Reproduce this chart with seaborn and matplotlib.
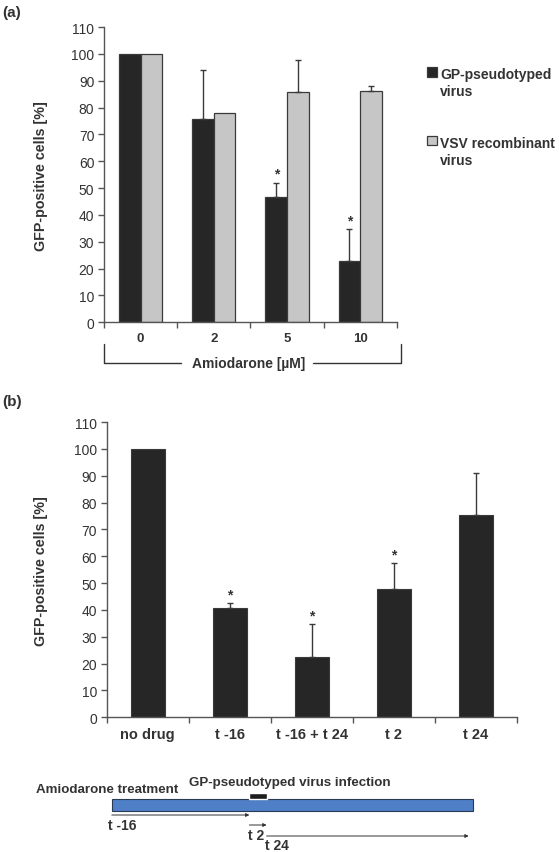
import numpy as np
import pandas as pd
import matplotlib
matplotlib.use("Agg")
import matplotlib.pyplot as plt
import seaborn as sns

sns.set_style("white")
plt.rcParams['font.family'] = ['Liberation Sans', 'DejaVu Sans']

#Panel (a) data
doses = ['0', '2', '5', '10']
gp_vals = [100, 75.7, 46.6, 22.8]
gp_err = [0, 18.3, 5.4, 11.9]
vsv_vals = [100, 78.0, 85.8, 86.2]
vsv_err = [0, 0, 12.0, 1.9]
sig_gp = [False, False, True, True]
series = ['GP-pseudotyped\nvirus', 'VSV recombinant\nvirus']

#Panel (b) data
timepoints = ['no drug', 't -16', 't -16 + t 24', 't 2', 't 24']
b_vals = [100, 40.7, 22.6, 47.8, 75.3]
b_err = [0, 1.8, 12.1, 9.6, 15.7]
sig_b = [False, True, True, True, False]

#Timeline (hours)
treat_start, treat_end = -16, 26
infect_start, infect_end = 0, 2

dark = '#262626'
light = '#c6c6c6'
spine_c = '#555555'
txt_c = '#333333'

fig = plt.figure(figsize=(5.59, 8.53), dpi=100)


def style_axes(ax, ncat, xsize):
    sns.despine(ax=ax)
    for s in ['left', 'bottom']:
        ax.spines[s].set_color(spine_c)
        ax.spines[s].set_linewidth(1.0)
    ax.set_ylim(0, 110)
    ax.set_xlim(-0.5, ncat - 0.5)
    ax.set_yticks(np.arange(0, 111, 10))
    ax.tick_params(axis='y', direction='out', length=4, width=1, color=spine_c,
                   labelsize=10, labelcolor=txt_c, pad=3, left=True)
    ax.set_xticks(np.arange(-0.5, ncat, 1), minor=True)
    ax.tick_params(axis='x', which='minor', direction='out', length=4, width=1,
                   color=spine_c, bottom=True)
    ax.tick_params(axis='x', which='major', length=0, labelsize=xsize, pad=7)
    for lab in ax.get_xticklabels():
        lab.set_fontweight('bold')
        lab.set_color(txt_c)
    ax.set_xlabel('')
    ax.set_ylabel('GFP-positive cells [%]', fontsize=10.3, fontweight='bold', color=txt_c)


def add_errors(ax, container, vals, errs, sig):
    xs = np.array([p.get_x() + p.get_width() / 2 for p in container.patches])
    vals = np.asarray(vals)
    errs = np.asarray(errs)
    keep = errs > 0
    ax.errorbar(xs[keep], vals[keep], yerr=[np.zeros(keep.sum()), errs[keep]],
                fmt='none', ecolor='#3a3a3a', elinewidth=1, capsize=2, capthick=1)
    for x, v, e, s in zip(xs, vals, errs, sig):
        if s:
            ax.text(x, v + e + 0.8, '*', ha='center', va='bottom', fontsize=10,
                    fontweight='bold', color=txt_c)


#Panel (a)
df_a = pd.DataFrame({'dose': doses * 2,
                     'value': gp_vals + vsv_vals,
                     'virus': [series[0]] * 4 + [series[1]] * 4})
ax_a = fig.add_axes([0.186, 0.621, 0.524, 0.346])
sns.barplot(data=df_a, x='dose', y='value', hue='virus', palette=[dark, light],
            width=0.59, gap=0, saturation=1, errorbar=None, edgecolor='#3a3a3a',
            linewidth=0.9, ax=ax_a)
style_axes(ax_a, 4, 9.5)
add_errors(ax_a, ax_a.containers[0], gp_vals, gp_err, sig_gp)
add_errors(ax_a, ax_a.containers[1], vsv_vals, vsv_err, [False] * 4)
sns.move_legend(ax_a, 'upper left', bbox_to_anchor=(1.06, 0.908), frameon=False,
                title=None, prop={'weight': 'bold', 'size': 10},
                handlelength=0.7, handleheight=0.7, handletextpad=0.25,
                labelspacing=2.7)
leg = ax_a.get_legend()
for t in leg.get_texts():
    t.set_color(txt_c)
    t.set_linespacing(1.3)
for col in leg._legend_handle_box.get_children():
    for item in col.get_children():
        item.align = 'top'

#Amiodarone bracket below the x axis
tr = ax_a.get_xaxis_transform()
ax_a.plot([-0.5, -0.5, 0.55], [-0.075, -0.139, -0.139], color=txt_c, lw=1,
          transform=tr, clip_on=False)
ax_a.plot([2.35, 3.55, 3.55], [-0.139, -0.139, -0.075], color=txt_c, lw=1,
          transform=tr, clip_on=False)
ax_a.text(1.47, -0.139, 'Amiodarone [µM]', transform=tr, ha='center', va='center',
          fontsize=10, fontweight='bold', color=txt_c)
ax_a.yaxis.set_label_coords(-0.19, 0.5)

#Panel (b)
df_b = pd.DataFrame({'time': timepoints, 'value': b_vals})
ax_b = fig.add_axes([0.191, 0.158, 0.734, 0.346])
sns.barplot(data=df_b, x='time', y='value', color=dark, width=0.41, saturation=1,
            errorbar=None, edgecolor='#3a3a3a', linewidth=0.8, ax=ax_b)
style_axes(ax_b, 5, 10.5)
add_errors(ax_b, ax_b.containers[0], b_vals, b_err, sig_b)
ax_b.yaxis.set_label_coords(-0.144, 0.5)

fig.text(0.004, 0.985, '(a)', fontsize=11, fontweight='bold', color=txt_c, va='center')
fig.text(0.004, 0.529, '(b)', fontsize=11, fontweight='bold', color=txt_c, va='center')

#Timeline diagram
ax_t = fig.add_axes([0, 0, 1, 0.1348])
ax_t.set_xlim(-29.0, 36.0)
ax_t.set_ylim(853, 738)
ax_t.axis('off')
ax_t.barh(806, treat_end - treat_start, left=treat_start, height=12,
          color='#4f7fc6', edgecolor='#2a3a55', linewidth=0.8)
ax_t.barh(797, infect_end - infect_start, left=infect_start, height=6,
          color='#1e1e1e')
ax_t.text(-24.8, 790, 'Amiodarone treatment', fontsize=9.6, fontweight='bold',
          color=txt_c, va='center', ha='left')
ax_t.text(-7.0, 783, 'GP-pseudotyped virus infection', fontsize=9.6,
          color=txt_c, va='center', ha='left', fontweight='bold')
arrows = [(treat_start, infect_start, 816, 't -16', -16.4, 826),
          (infect_start, infect_end, 826, 't 2', -0.2, 836),
          (infect_end, 25.5, 837, 't 24', 1.8, 846)]
for x0, x1, y, lab, lx, ly in arrows:
    ax_t.annotate('', xy=(x1, y), xytext=(x0, y),
                  arrowprops=dict(arrowstyle='-|>', color=txt_c, lw=0.7,
                                  mutation_scale=5, shrinkA=0, shrinkB=0))
    ax_t.text(lx, ly, lab, fontsize=10, fontweight='bold', color=txt_c,
              va='center', ha='left')

fig.savefig('out.png', dpi=100)
